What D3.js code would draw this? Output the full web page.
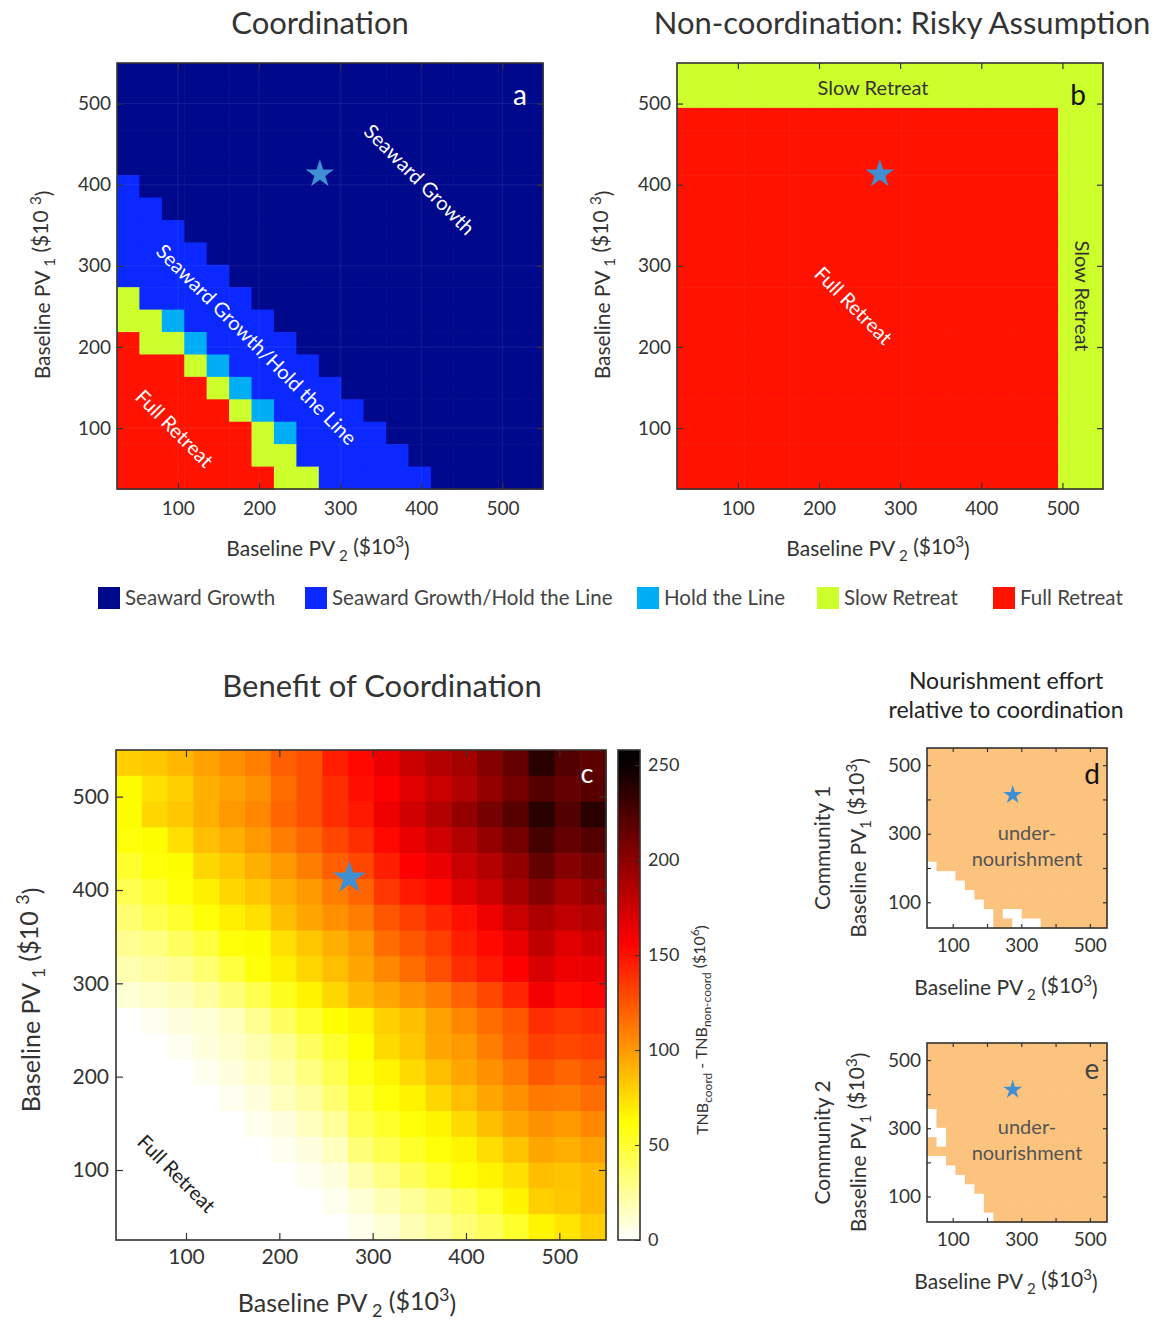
<!DOCTYPE html>
<html>
<head>
<meta charset="utf-8">
<script src="https://cdn.jsdelivr.net/npm/d3@7"></script>
<style>
  body { margin: 0; background: #fff; }
</style>
</head>
<body>
<div id="chart"></div>
<script>
// Baseline property value grid (19 cells between 25 and 550, x $10^3)
const pvEdges = [25, 52.6, 80.3, 107.9, 135.5, 163.2, 190.8, 218.4, 246.1, 273.7,
                 301.3, 328.9, 356.6, 384.2, 411.8, 439.5, 467.1, 494.7, 522.4, 550];
const pvTicks = [100, 200, 300, 400, 500];
const pvTicksSmall = [100, 300, 500];
const starPoint = [275, 413]; // [PV2, PV1]

// Strategy codes
const strategyCodes = ["N", "B", "H", "S", "F"];
const strategyNames = ["Seaward Growth", "Seaward Growth/Hold the Line", "Hold the Line", "Slow Retreat", "Full Retreat"];
const strategyColors = ["#00088c", "#0a28ff", "#00aef5", "#cdff2d", "#ff1200"];

// Panel a: coordination, rows from PV1 high (top) to low (bottom), columns PV2 low -> high
const coordRows = [
  "NNNNNNNNNNNNNNNNNNN",
  "NNNNNNNNNNNNNNNNNNN",
  "NNNNNNNNNNNNNNNNNNN",
  "NNNNNNNNNNNNNNNNNNN",
  "NNNNNNNNNNNNNNNNNNN",
  "BNNNNNNNNNNNNNNNNNN",
  "BBNNNNNNNNNNNNNNNNN",
  "BBBNNNNNNNNNNNNNNNN",
  "BBBBNNNNNNNNNNNNNNN",
  "BBBBBNNNNNNNNNNNNNN",
  "SBBBBBNNNNNNNNNNNNN",
  "SSHBBBBNNNNNNNNNNNN",
  "FSSHBBBBNNNNNNNNNNN",
  "FFFSHBBBBNNNNNNNNNN",
  "FFFFSHBBBBNNNNNNNNN",
  "FFFFFSHBBBBNNNNNNNN",
  "FFFFFFSHBBBBNNNNNNN",
  "FFFFFFSSBBBBBNNNNNN",
  "FFFFFFFSSBBBBBNNNNN"
];

// Panel b: non-coordination, risky assumption
const riskyRows = [
  "SSSSSSSSSSSSSSSSSSS",
  "SSSSSSSSSSSSSSSSSSS",
  "FFFFFFFFFFFFFFFFFSS",
  "FFFFFFFFFFFFFFFFFSS",
  "FFFFFFFFFFFFFFFFFSS",
  "FFFFFFFFFFFFFFFFFSS",
  "FFFFFFFFFFFFFFFFFSS",
  "FFFFFFFFFFFFFFFFFSS",
  "FFFFFFFFFFFFFFFFFSS",
  "FFFFFFFFFFFFFFFFFSS",
  "FFFFFFFFFFFFFFFFFSS",
  "FFFFFFFFFFFFFFFFFSS",
  "FFFFFFFFFFFFFFFFFSS",
  "FFFFFFFFFFFFFFFFFSS",
  "FFFFFFFFFFFFFFFFFSS",
  "FFFFFFFFFFFFFFFFFSS",
  "FFFFFFFFFFFFFFFFFSS",
  "FFFFFFFFFFFFFFFFFSS",
  "FFFFFFFFFFFFFFFFFSS"
];

// Panel c: TNB_coord - TNB_non-coord ($10^6)
const benefitRows = [
  [80, 83, 89, 97, 103, 109, 121, 127, 145, 153, 164, 177, 185, 191, 203, 215, 238, 222, 218],
  [63, 74, 80, 92, 97, 103, 116, 127, 139, 150, 156, 168, 177, 185, 197, 209, 222, 215, 220],
  [63, 77, 83, 92, 100, 106, 119, 127, 139, 147, 162, 174, 185, 197, 209, 220, 238, 222, 238],
  [60, 63, 74, 86, 92, 100, 110, 119, 130, 139, 153, 164, 174, 185, 197, 209, 227, 215, 222],
  [51, 60, 63, 77, 83, 92, 100, 110, 121, 130, 145, 156, 164, 177, 185, 197, 215, 203, 209],
  [43, 51, 60, 68, 77, 83, 92, 100, 110, 119, 136, 147, 153, 168, 177, 191, 203, 191, 197],
  [35, 43, 51, 60, 68, 74, 86, 95, 103, 110, 124, 133, 142, 150, 162, 177, 188, 180, 185],
  [27, 31, 39, 47, 60, 63, 74, 83, 92, 100, 116, 124, 133, 145, 153, 164, 180, 168, 174],
  [19, 23, 27, 35, 47, 60, 68, 77, 86, 95, 106, 116, 127, 139, 147, 156, 171, 162, 164],
  [10, 13, 17, 23, 33, 43, 55, 66, 77, 88, 95, 102, 110, 120, 130, 142, 160, 152, 155],
  [0, 4, 8, 10, 16, 27, 39, 51, 62, 67, 80, 86, 97, 106, 116, 124, 139, 136, 139],
  [0, 0, 4, 8, 12, 19, 27, 39, 51, 62, 76, 83, 95, 100, 110, 121, 133, 130, 133],
  [0, 0, 0, 4, 8, 14, 21, 31, 43, 57, 66, 76, 86, 95, 103, 112, 124, 119, 124],
  [0, 0, 0, 0, 4, 8, 16, 23, 35, 50, 60, 67, 77, 86, 95, 103, 112, 110, 116],
  [0, 0, 0, 0, 0, 4, 8, 16, 25, 43, 52, 60, 66, 76, 86, 95, 103, 100, 106],
  [0, 0, 0, 0, 0, 0, 4, 8, 16, 33, 43, 52, 60, 66, 75, 84, 95, 92, 97],
  [0, 0, 0, 0, 0, 0, 0, 4, 8, 20, 30, 40, 50, 60, 66, 74, 86, 84, 88],
  [0, 0, 0, 0, 0, 0, 0, 0, 4, 10, 18, 25, 33, 42, 52, 66, 80, 83, 88],
  [0, 0, 0, 0, 0, 0, 0, 0, 0, 5, 10, 18, 25, 33, 40, 52, 66, 72, 80]
];
const benefitTicks = [0, 50, 100, 150, 200, 250];
const benefitMax = 258;

// Panels d, e: nourishment effort relative to coordination (U = under-nourishment, W = none)
const effortRows1 = [
  "UUUUUUUUUUUUUUUUUUU",
  "UUUUUUUUUUUUUUUUUUU",
  "UUUUUUUUUUUUUUUUUUU",
  "UUUUUUUUUUUUUUUUUUU",
  "UUUUUUUUUUUUUUUUUUU",
  "UUUUUUUUUUUUUUUUUUU",
  "UUUUUUUUUUUUUUUUUUU",
  "UUUUUUUUUUUUUUUUUUU",
  "UUUUUUUUUUUUUUUUUUU",
  "UUUUUUUUUUUUUUUUUUU",
  "UUUUUUUUUUUUUUUUUUU",
  "UUUUUUUUUUUUUUUUUUU",
  "WUUUUUUUUUUUUUUUUUU",
  "WWWUUUUUUUUUUUUUUUU",
  "WWWWUUUUUUUUUUUUUUU",
  "WWWWWUUUUUUUUUUUUUU",
  "WWWWWWUUUUUUUUUUUUU",
  "WWWWWWWUWWUUUUUUUUU",
  "WWWWWWWUUWWWUUUUUUU"
];
const effortRows2 = [
  "UUUUUUUUUUUUUUUUUUU",
  "UUUUUUUUUUUUUUUUUUU",
  "UUUUUUUUUUUUUUUUUUU",
  "UUUUUUUUUUUUUUUUUUU",
  "UUUUUUUUUUUUUUUUUUU",
  "UUUUUUUUUUUUUUUUUUU",
  "UUUUUUUUUUUUUUUUUUU",
  "WUUUUUUUUUUUUUUUUUU",
  "WUUUUUUUUUUUUUUUUUU",
  "WWUUUUUUUUUUUUUUUUU",
  "UWUUUUUUUUUUUUUUUUU",
  "UUUUUUUUUUUUUUUUUUU",
  "WWUUUUUUUUUUUUUUUUU",
  "WWWUUUUUUUUUUUUUUUU",
  "WWWWUUUUUUUUUUUUUUU",
  "WWWWWUUUUUUUUUUUUUU",
  "WWWWWWUUUUUUUUUUUUU",
  "WWWWWWUUUUUUUUUUUUU",
  "WWWWWWWUUUUUUUUUUUU"
];

const FONT = "Lato, 'Open Sans', sans-serif";
const TXT = "#333";
const width = 1161, height = 1326;

const svg = d3.select("#chart").append("svg")
  .attr("width", width)
  .attr("height", height)
  .style("background", "#fff")
  .style("font-family", FONT);

const strategyColor = d3.scaleOrdinal().domain(strategyCodes).range(strategyColors);
const effortColor = d3.scaleOrdinal().domain(["U", "W"]).range(["#fcc37e", "#ffffff"]);
// flipped "hot" colormap
const benefitColor = d3.scaleLinear()
  .domain([0, 62.5, 156, 250, benefitMax])
  .range(["#ffffff", "#ffff00", "#ff0000", "#0a0000", "#000000"])
  .clamp(true);

function makeScales(x0, x1, y0, y1) {
  return {
    x: d3.scaleLinear().domain([pvEdges[0], pvEdges[pvEdges.length - 1]]).range([x0, x1]),
    y: d3.scaleLinear().domain([pvEdges[0], pvEdges[pvEdges.length - 1]]).range([y1, y0])
  };
}

// draw grid cells; rows[0] is the top row
function drawCells(g, x, y, rows, colorOf) {
  const cells = [];
  rows.forEach((row, t) => {
    const r = rows.length - 1 - t;
    Array.from(row).forEach((v, c) => cells.push({ r, c, v }));
  });
  g.append("g").selectAll("rect").data(cells).join("rect")
    .attr("x", d => x(pvEdges[d.c]))
    .attr("y", d => y(pvEdges[d.r + 1]))
    .attr("width", d => x(pvEdges[d.c + 1]) - x(pvEdges[d.c]) + 0.6)
    .attr("height", d => y(pvEdges[d.r]) - y(pvEdges[d.r + 1]) + 0.6)
    .attr("fill", d => colorOf(d.v));
}

// box with inward ticks on all four sides
function drawFrame(g, x, y, o) {
  const [x0, x1] = x.range();
  const [y1, y0] = y.range();
  const fmt = d => (o.labels.includes(d) ? d : "");
  const style = sel => {
    sel.select(".domain").remove();
    sel.selectAll("line").attr("stroke", "#333").attr("stroke-width", 1.2);
    sel.selectAll("text").attr("fill", TXT).style("font-size", o.fontSize + "px").style("font-family", FONT);
  };
  g.append("g").attr("transform", `translate(0,${y1})`)
    .call(d3.axisBottom(x).tickValues(pvTicks).tickFormat(fmt).tickSize(-o.tick).tickSizeOuter(0).tickPadding(o.xPad))
    .call(style);
  g.append("g").attr("transform", `translate(0,${y0})`)
    .call(d3.axisTop(x).tickValues(pvTicks).tickFormat("").tickSize(-o.tick).tickSizeOuter(0))
    .call(style);
  g.append("g").attr("transform", `translate(${x0},0)`)
    .call(d3.axisLeft(y).tickValues(pvTicks).tickFormat(fmt).tickSize(-o.tick).tickSizeOuter(0).tickPadding(o.yPad))
    .call(style);
  g.append("g").attr("transform", `translate(${x1},0)`)
    .call(d3.axisRight(y).tickValues(pvTicks).tickFormat("").tickSize(-o.tick).tickSizeOuter(0))
    .call(style);
  g.append("rect")
    .attr("x", x0).attr("y", y0)
    .attr("width", x1 - x0).attr("height", y1 - y0)
    .attr("fill", "none").attr("stroke", "#333").attr("stroke-width", 1.6);
}

// "Baseline PV_n ($10^3)" with sub/superscripts
function pvLabel(sel, sub, subGap, supGap) {
  sel.append("tspan").text("Baseline PV");
  sel.append("tspan").attr("dx", subGap ? "0.25em" : 0).attr("dy", "0.3em").style("font-size", "0.72em").text(sub);
  sel.append("tspan").attr("dy", "-0.3em").text(" ($10" + (supGap ? " " : ""));
  sel.append("tspan").attr("dy", "-0.5em").style("font-size", "0.72em").text("3");
  sel.append("tspan").attr("dy", "0.5em").text(")");
}

function addText(x, y, txt, size, color, opts = {}) {
  const t = svg.append("text")
    .attr("transform", `translate(${x},${y})` + (opts.rotate ? ` rotate(${opts.rotate})` : ""))
    .attr("text-anchor", opts.anchor || "middle")
    .attr("dominant-baseline", opts.middle ? "middle" : null)
    .style("font-size", size + "px")
    .attr("fill", color);
  if (txt !== null) t.text(txt);
  return t;
}

function drawStar(x, y, size) {
  svg.append("path")
    .attr("d", d3.symbol(d3.symbolStar, size)())
    .attr("transform", `translate(${x(starPoint[0])},${y(starPoint[1])})`)
    .attr("fill", "#3f8fd2");
}

// ---------- Panel a ----------
{
  const { x, y } = makeScales(117, 543, 63, 489);
  const g = svg.append("g");
  drawCells(g, x, y, coordRows, v => strategyColor(v));
  // faint grid
  g.append("g").selectAll("line.gx").data(pvTicks).join("line")
    .attr("x1", d => x(d)).attr("x2", d => x(d)).attr("y1", 63).attr("y2", 489)
    .attr("stroke", "#fff").attr("stroke-opacity", 0.08);
  g.append("g").selectAll("line.gy").data(pvTicks).join("line")
    .attr("y1", d => y(d)).attr("y2", d => y(d)).attr("x1", 117).attr("x2", 543)
    .attr("stroke", "#fff").attr("stroke-opacity", 0.08);
  drawFrame(g, x, y, { labels: pvTicks, fontSize: 19, tick: 6, xPad: 13, yPad: 6 });
  drawStar(x, y, 250);
  addText(320, 34, "Coordination", 31, TXT);
  addText(520, 105, "a", 28, "#fff");
  addText(418, 181, "Seaward Growth", 20, "#fff", { rotate: 45, middle: true });
  addText(255, 346, "Seaward Growth/Hold the Line", 20, "#fff", { rotate: 45, middle: true });
  addText(173, 430, "Full Retreat", 20, "#fff", { rotate: 45, middle: true });
  pvLabel(addText(318, 556, null, 21, TXT), "2", true, false);
  pvLabel(addText(50, 285, null, 21, TXT, { rotate: -90 }), "1", true, true);
}

// ---------- Panel b ----------
{
  const { x, y } = makeScales(677, 1103, 63, 489);
  const g = svg.append("g");
  drawCells(g, x, y, riskyRows, v => strategyColor(v));
  drawFrame(g, x, y, { labels: pvTicks, fontSize: 19, tick: 6, xPad: 13, yPad: 6 });
  drawStar(x, y, 250);
  addText(902, 34, "Non-coordination: Risky Assumption", 31, TXT);
  addText(1078, 105, "b", 28, "#111");
  addText(873, 90, "Slow Retreat", 20, TXT, { middle: true });
  addText(1080, 296, "Slow Retreat", 20, TXT, { rotate: 90, middle: true });
  addText(852, 307, "Full Retreat", 20, "#fff", { rotate: 45, middle: true });
  pvLabel(addText(878, 556, null, 21, TXT), "2", true, false);
  pvLabel(addText(610, 285, null, 21, TXT, { rotate: -90 }), "1", true, true);
}

// ---------- Legend ----------
{
  const legendX = [98, 305, 637, 817, 993];
  const lg = svg.append("g");
  strategyCodes.forEach((code, i) => {
    lg.append("rect")
      .attr("x", legendX[i]).attr("y", 587)
      .attr("width", 22).attr("height", 22)
      .attr("fill", strategyColor(code));
    lg.append("text")
      .attr("x", legendX[i] + 27).attr("y", 605)
      .style("font-size", "20.5px").attr("fill", "#444")
      .text(strategyNames[i]);
  });
}

// ---------- Panel c ----------
{
  const { x, y } = makeScales(116, 606, 750, 1240);
  const g = svg.append("g");
  drawCells(g, x, y, benefitRows, v => benefitColor(v));
  drawFrame(g, x, y, { labels: pvTicks, fontSize: 21, tick: 7, xPad: 9, yPad: 7 });
  drawStar(x, y, 330);
  addText(382, 697, "Benefit of Coordination", 31, TXT);
  addText(587, 783, "c", 27, "#fff");
  addText(175, 1175, "Full Retreat", 20, "#222", { rotate: 45, middle: true });
  pvLabel(addText(347, 1312, null, 25, TXT), "2", true, false);
  pvLabel(addText(40, 1000, null, 25, TXT, { rotate: -90 }), "1", true, true);

  // colorbar
  const cb = d3.scaleLinear().domain([0, benefitMax]).range([1240, 750]);
  const grad = svg.append("defs").append("linearGradient")
    .attr("id", "hotGrad").attr("x1", 0).attr("y1", 1).attr("x2", 0).attr("y2", 0);
  benefitColor.domain().forEach(v => {
    grad.append("stop").attr("offset", v / benefitMax).attr("stop-color", benefitColor(v));
  });
  svg.append("rect").attr("x", 618).attr("y", 750).attr("width", 22).attr("height", 490)
    .attr("fill", "url(#hotGrad)").attr("stroke", "#333").attr("stroke-width", 1.6);
  const cbAxis = svg.append("g").attr("transform", "translate(640,0)")
    .call(d3.axisRight(cb).tickValues(benefitTicks).tickSize(-5).tickSizeOuter(0).tickPadding(8));
  cbAxis.select(".domain").remove();
  cbAxis.selectAll("line").attr("stroke", "#333");
  cbAxis.selectAll("text").attr("fill", TXT).style("font-size", "18px").style("font-family", FONT);

  const lab = addText(708, 1030, null, 16, TXT, { rotate: -90 });
  lab.append("tspan").text("TNB");
  lab.append("tspan").attr("dy", "0.35em").style("font-size", "0.75em").text("coord");
  lab.append("tspan").attr("dy", "-0.35em").text(" - TNB");
  lab.append("tspan").attr("dy", "0.35em").style("font-size", "0.75em").text("non-coord");
  lab.append("tspan").attr("dy", "-0.35em").text(" ($10");
  lab.append("tspan").attr("dy", "-0.5em").style("font-size", "0.72em").text("6");
  lab.append("tspan").attr("dy", "0.5em").text(")");
}

// ---------- Panels d, e ----------
addText(1006, 689, "Nourishment effort", 23, "#222");
addText(1006, 718, "relative to coordination", 23, "#222");

[
  { rows: effortRows1, y0: 748, y1: 928, letter: "d", letterColor: "#111", community: "Community 1", textY: 840 },
  { rows: effortRows2, y0: 1043, y1: 1222, letter: "e", letterColor: "#444", community: "Community 2", textY: 1134 }
].forEach(p => {
  const { x, y } = makeScales(927, 1107, p.y0, p.y1);
  const g = svg.append("g");
  drawCells(g, x, y, p.rows, v => effortColor(v));
  drawFrame(g, x, y, { labels: pvTicksSmall, fontSize: 19, tick: 4, xPad: 11, yPad: 6 });
  drawStar(x, y, 110);
  addText(1092, p.y0 + 36, p.letter, 28, p.letterColor);
  addText(1027, p.textY, "under-", 20, "#555");
  addText(1027, p.textY + 26, "nourishment", 20, "#555");
  const cy = (p.y0 + p.y1) / 2 + 10;
  pvLabel(addText(1006, p.y1 + 67, null, 21, TXT), "2", true, false);
  pvLabel(addText(866, cy, null, 21, TXT, { rotate: -90 }), "1", false, false);
  addText(830, cy, p.community, 21, TXT, { rotate: -90 });
});
</script>
</body>
</html>
